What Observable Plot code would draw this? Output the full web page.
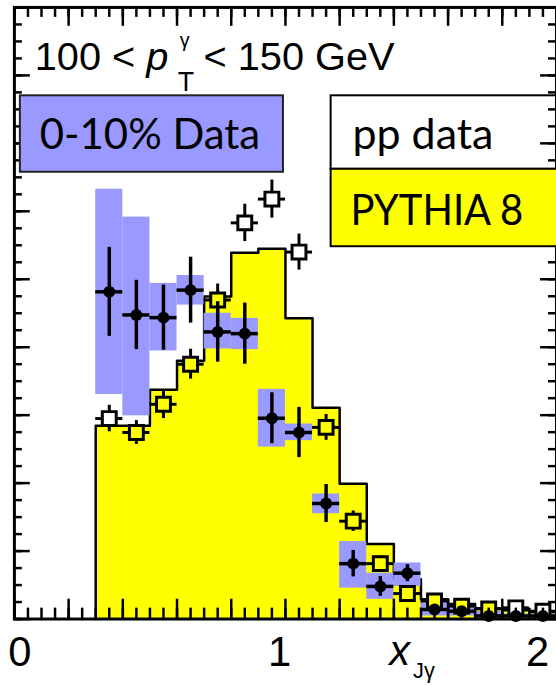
<!DOCTYPE html>
<html>
<head>
<meta charset="utf-8">
<script src="https://cdn.jsdelivr.net/npm/d3@7"></script>
<script src="https://cdn.jsdelivr.net/npm/@observablehq/plot@0.6"></script>
<style>
  html, body { margin: 0; padding: 0; background: #fff; overflow: hidden; }
  #chart { position: relative; width: 556px; height: 685px; overflow: hidden; }
  #chart svg { display: block; }
</style>
</head>
<body>
<div id="chart"></div>
<script>
// x_Jgamma bins (lower edges, width 0.1)
const binLow = [0.3, 0.4, 0.5, 0.6, 0.7, 0.8, 0.9, 1.0, 1.1, 1.2, 1.3, 1.4, 1.5, 1.6, 1.7, 1.8, 1.9];
const binWidth = 0.1;

// PYTHIA 8 reference histogram
const pythia = [0.569, 0.569, 0.675, 0.760, 0.949, 1.078, 1.090, 0.885, 0.622, 0.398, 0.221, 0.117, 0.058, 0.044, 0.032, 0.026, 0.020];

// pp data (open squares) and statistical errors
const ppValue = [0.590, 0.549, 0.632, 0.750, 0.939, 1.166, 1.236, 1.080, 0.564, 0.288, 0.163, 0.075, 0.053, 0.038, 0.030, 0.033, 0.023];
const ppErr   = [0.039, 0.035, 0.042, 0.044, 0.047, 0.055, 0.056, 0.053, 0.038, 0.030, 0.022, 0.016, 0.012, 0.010, 0.008, 0.008, 0.008];

// 0-10% PbPb data (filled circles), statistical errors and systematic band
const aaValue   = [0.963, 0.895, 0.887, 0.968, 0.845, 0.840, 0.591, 0.549, 0.340, 0.163, 0.096, 0.135, 0.028, 0.023, 0.009, 0.009, 0.009];
const aaStat    = [0.131, 0.102, 0.096, 0.097, 0.089, 0.090, 0.075, 0.074, 0.056, 0.039, 0.029, 0.025, 0.015, 0.012, 0.008, 0.006, 0.006];
const aaSysLow  = [0.661, 0.598, 0.789, 0.924, 0.795, 0.793, 0.506, 0.525, 0.310, 0.091, 0.058, 0.096, 0.009, 0.009, 0.003, 0.003, 0.003];
const aaSysHigh = [1.265, 1.183, 0.988, 1.011, 0.900, 0.885, 0.676, 0.574, 0.368, 0.228, 0.135, 0.165, 0.048, 0.038, 0.022, 0.015, 0.015];

// axis tick labels
const xTickLabels = ["0", "1", "2"];
const xTickValues = [0, 1, 2];

const YELLOW = "#ffff00";
const BLUE = "#9999ff";
const rootFont = "'Liberation Sans', Arial, Helvetica, sans-serif";
const boxFont = "Lato, 'Open Sans', sans-serif";

const rows = binLow.map((lo, i) => ({
  lo, hi: lo + binWidth, mid: lo + binWidth / 2,
  pythia: pythia[i],
  pp: ppValue[i], ppErr: ppErr[i],
  aa: aaValue[i], aaStat: aaStat[i],
  sysLo: aaSysLow[i], sysHi: aaSysHigh[i]
}));

// step outline of the PYTHIA histogram
const outline = [{x: binLow[0], y: 0}].concat(
  rows.flatMap(r => [{x: r.lo, y: r.pythia}, {x: r.hi, y: r.pythia}])
);

const W = 560, H = 685, mL = 14, mR = 0, mT = 7, mB = 62;
const frameW = W - mL - mR, frameH = H - mT - mB;

const xMinor = d3.range(0, 2.0001, 0.05);
const xMajor = d3.range(0, 2.0001, 0.2);
const yMinor = d3.range(0, 1.8001, 0.05);
const yMajor = d3.range(0, 1.8001, 0.2);
const tickDx = [5.5, -6, -19];

const fig = Plot.plot({
  width: W, height: H,
  marginLeft: mL, marginRight: mR, marginTop: mT, marginBottom: mB,
  x: {domain: [0, 2], axis: null},
  y: {domain: [0, 1.8], axis: null},
  color: {type: "identity"},
  style: {background: "transparent", overflow: "visible", fontFamily: rootFont},
  marks: [
    Plot.areaY(outline, {x: "x", y1: 0, y2: "y", fill: YELLOW}),
    Plot.line(outline, {x: "x", y: "y", stroke: "black", strokeWidth: 2.5}),
    Plot.rect(rows, {x1: "lo", x2: "hi", y1: "sysLo", y2: "sysHi", fill: BLUE}),
    // pp data
    Plot.ruleX(rows, {x: "mid", y1: d => d.pp - d.ppErr, y2: d => d.pp + d.ppErr, stroke: "black", strokeWidth: 3}),
    Plot.ruleY(rows, {y: "pp", x1: "lo", x2: "hi", stroke: "black", strokeWidth: 3}),
    Plot.dot(rows, {x: "mid", y: "pp", symbol: "square", r: 7.9, stroke: "black", strokeWidth: 3,
      fill: d => d.pp < d.pythia ? YELLOW : "#ffffff"}),
    // 0-10% data
    Plot.ruleX(rows, {x: "mid", y1: d => d.aa - d.aaStat, y2: d => d.aa + d.aaStat, stroke: "black", strokeWidth: 3.5}),
    Plot.ruleY(rows, {y: "aa", x1: "lo", x2: "hi", stroke: "black", strokeWidth: 3.5}),
    Plot.dot(rows, {x: "mid", y: "aa", r: 6, fill: "black"}),
    // inward ticks on all four sides
    Plot.tickX(xMinor, {x: d => d, insetTop: frameH - 11, stroke: "black", strokeWidth: 2.5}),
    Plot.tickX(xMajor, {x: d => d, insetTop: frameH - 20, stroke: "black", strokeWidth: 2.5}),
    Plot.tickX(xMinor, {x: d => d, insetBottom: frameH - 10, stroke: "black", strokeWidth: 2.5}),
    Plot.tickX(xMajor, {x: d => d, insetBottom: frameH - 19, stroke: "black", strokeWidth: 2.5}),
    Plot.tickY(yMinor, {y: d => d, insetRight: frameW - 8, stroke: "black", strokeWidth: 2.5}),
    Plot.tickY(yMajor, {y: d => d, insetRight: frameW - 16, stroke: "black", strokeWidth: 2.5}),
    Plot.tickY(yMinor, {y: d => d, insetLeft: frameW - 8, stroke: "black", strokeWidth: 2.5}),
    Plot.tickY(yMajor, {y: d => d, insetLeft: frameW - 16, stroke: "black", strokeWidth: 2.5}),
    Plot.frame({stroke: "black", strokeWidth: 3}),
    // x tick labels
    ...xTickValues.map((v, i) => Plot.text([v], {
      x: d => d, text: () => xTickLabels[i], frameAnchor: "bottom", dy: 47, dx: tickDx[i],
      lineAnchor: "bottom", textAnchor: "middle", fontSize: 42, fill: "black"
    }))
  ]
});

document.getElementById("chart").appendChild(fig);

const svg = d3.select(fig);
const ns = svg.append("g").attr("text-anchor", "start").attr("fill", "black");

// kinematic selection label
ns.append("text").attr("x", 35).attr("y", 71).attr("font-family", rootFont).attr("font-size", 40)
  .call(t => { t.append("tspan").text("100 < "); t.append("tspan").attr("font-style", "italic").text("p"); });
ns.append("text").attr("x", 181).attr("y", 47).attr("font-family", rootFont).attr("font-size", 20).text("γ");
ns.append("text").attr("x", 179).attr("y", 92).attr("font-family", rootFont).attr("font-size", 27).text("T");
ns.append("text").attr("x", 205).attr("y", 71).attr("font-family", rootFont).attr("font-size", 40).text("< 150 GeV");

// x axis title
ns.append("text").attr("x", 392).attr("y", 670).attr("font-family", rootFont).attr("font-size", 42)
  .attr("font-style", "italic").text("x");
ns.append("text").attr("x", 416).attr("y", 683).attr("font-family", rootFont).attr("font-size", 22).text("Jγ");

// legend boxes
ns.append("rect").attr("x", 20).attr("y", 96).attr("width", 265).attr("height", 77)
  .attr("fill", BLUE).attr("stroke", "#222").attr("stroke-width", 2);
ns.append("text").attr("x", 40).attr("y", 150).attr("font-family", boxFont).attr("font-size", 42)
  .attr("textLength", 222).attr("lengthAdjust", "spacingAndGlyphs").text("0-10% Data");

ns.append("rect").attr("x", 333).attr("y", 96).attr("width", 240).attr("height", 74)
  .attr("fill", "none").attr("stroke", "black").attr("stroke-width", 2);
ns.append("text").attr("x", 355).attr("y", 150).attr("font-family", boxFont).attr("font-size", 42)
  .attr("textLength", 142).attr("lengthAdjust", "spacingAndGlyphs").text("pp data");

ns.append("rect").attr("x", 333).attr("y", 170).attr("width", 240).attr("height", 78)
  .attr("fill", YELLOW).attr("stroke", "black").attr("stroke-width", 2);
ns.append("text").attr("x", 353).attr("y", 227).attr("font-family", boxFont).attr("font-size", 42)
  .attr("textLength", 174).attr("lengthAdjust", "spacingAndGlyphs").text("PYTHIA 8");
</script>
</body>
</html>
